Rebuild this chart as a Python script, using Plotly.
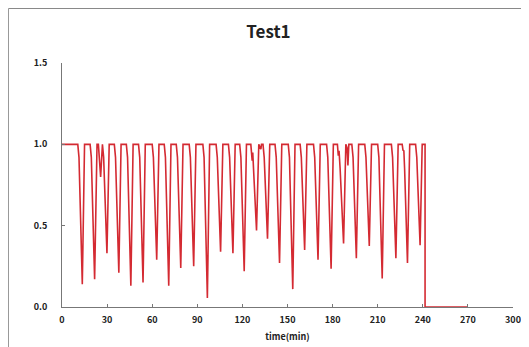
import plotly.graph_objects as go

# Voltage trace (time in minutes, voltage in V)
time_min = [
    0.0, 10.5, 11.3, 13.5, 15.0,
    18.7, 19.5, 21.7, 23.3,
    24.2, 25.7, 26.6,
    26.9, 27.7, 29.9, 31.4,
    34.8, 35.6, 37.8, 39.3,
    42.8, 43.6, 45.8, 47.3,
    50.9, 51.7, 53.9, 55.4,
    60.0, 60.8, 63.0, 64.5,
    68.0, 68.8, 71.0, 72.5,
    76.0, 76.8, 79.0, 80.5,
    84.6, 85.4, 87.6, 89.1,
    93.7, 94.5, 96.7, 98.2,
    102.5, 103.3, 105.5, 107.0,
    110.7, 111.5, 113.7, 115.2,
    118.2, 119.0, 121.2, 122.7,
    125.6, 126.5, 126.9, 127.4, 129.4, 130.9,
    132.3, 132.7,
    133.7, 134.5, 136.7, 138.2,
    141.7, 142.5, 144.7, 146.2,
    150.5, 151.3, 153.5, 155.0,
    158.4, 159.2, 161.4, 162.9,
    167.3, 168.1, 170.3, 171.8,
    176.0, 176.8, 179.0, 180.5,
    183.2, 183.8, 184.3, 185.0, 187.3, 188.8,
    189.6, 190.2, 190.8,
    192.8, 193.6, 195.8, 197.3,
    201.4, 202.2, 204.4, 205.9,
    210.0, 210.8, 213.0, 214.5,
    219.1, 219.9, 222.1, 223.6,
    226.3, 226.8, 227.4, 227.9, 229.8, 231.3,
    235.2, 236.0, 238.2, 239.6,
    241.5, 241.5, 270.0,
]
voltage_v = [
    1.0, 1.0, 0.92, 0.14, 1.0,
    1.0, 0.92, 0.17, 1.0,
    1.0, 0.80, 1.0,
    1.0, 0.92, 0.33, 1.0,
    1.0, 0.92, 0.21, 1.0,
    1.0, 0.92, 0.13, 1.0,
    1.0, 0.92, 0.15, 1.0,
    1.0, 0.92, 0.29, 1.0,
    1.0, 0.92, 0.13, 1.0,
    1.0, 0.92, 0.24, 1.0,
    1.0, 0.92, 0.25, 1.0,
    1.0, 0.92, 0.055, 1.0,
    1.0, 0.92, 0.34, 1.0,
    1.0, 0.92, 0.33, 1.0,
    1.0, 0.92, 0.22, 1.0,
    1.0, 0.90, 0.95, 0.85, 0.47, 1.0,
    0.97, 1.0,
    1.0, 0.92, 0.42, 1.0,
    1.0, 0.92, 0.27, 1.0,
    1.0, 0.92, 0.11, 1.0,
    1.0, 0.92, 0.35, 1.0,
    1.0, 0.92, 0.29, 1.0,
    1.0, 0.92, 0.235, 1.0,
    1.0, 0.93, 0.96, 0.85, 0.39, 1.0,
    0.98, 0.87, 1.0,
    1.0, 0.92, 0.30, 1.0,
    1.0, 0.92, 0.375, 1.0,
    1.0, 0.92, 0.175, 1.0,
    1.0, 0.92, 0.30, 1.0,
    1.0, 0.965, 0.96, 0.85, 0.27, 1.0,
    1.0, 0.92, 0.38, 1.0,
    1.0, 0.0, 0.0,
]

x_ticks = [0, 30, 60, 90, 120, 150, 180, 210, 240, 270, 300]
y_ticks = [0.0, 0.5, 1.0, 1.5]

FONT = "Noto Sans CJK JP"
TXT = "#222222"

fig = go.Figure()
fig.add_trace(go.Scatter(
    x=time_min, y=voltage_v, mode="lines",
    line=dict(color="#d42a32", width=1.6),
    showlegend=False,
))

fig.update_layout(
    width=521, height=339,
    margin=dict(l=54, r=16, t=55, b=40),
    paper_bgcolor="white", plot_bgcolor="white",
    title=dict(text="Test1", x=0.5, xanchor="center", y=0.930, yanchor="middle",
               font=dict(family=FONT, size=17, color=TXT, weight="bold")),
    shapes=[
        dict(type="line", xref="paper", yref="paper", x0=-0.1186, x1=1.1,
             y0=1.2234, y1=1.2234, line=dict(color="#888888", width=1)),
        dict(type="line", xref="paper", yref="paper", x0=-0.1186, x1=-0.1186,
             y0=-0.25, y1=1.2234, line=dict(color="#999999", width=1)),
    ],
    annotations=[
        dict(text="Voltage(V)", xref="paper", yref="paper", x=-0.1419, y=0.381,
             textangle=-90, showarrow=False,
             xanchor="center", yanchor="middle",
             font=dict(size=9, color=TXT)),
    ],
)
fig.update_xaxes(
    range=[0, 300], tickvals=x_ticks, ticktext=[str(v) for v in x_ticks],
    showgrid=False, zeroline=False, showline=True, linecolor="#777777", linewidth=1,
    ticks="inside", ticklen=3, tickcolor="#777777", automargin=False,
    ticklabelstandoff=4,
    tickfont=dict(family=FONT, size=9, color=TXT, weight="bold"),
    title=dict(text="time(min)", font=dict(family=FONT, size=9, color=TXT, weight="bold"),
               standoff=8),
)
fig.update_yaxes(
    range=[0, 1.5], tickvals=y_ticks, ticktext=["%.1f" % v for v in y_ticks],
    showgrid=False, zeroline=False, showline=True, linecolor="#777777", linewidth=1,
    ticks="inside", ticklen=3, tickcolor="#777777", automargin=False,
    ticklabelstandoff=12,
    tickfont=dict(family=FONT, size=9, color=TXT, weight="bold"),
)

fig.write_html("out.html")
